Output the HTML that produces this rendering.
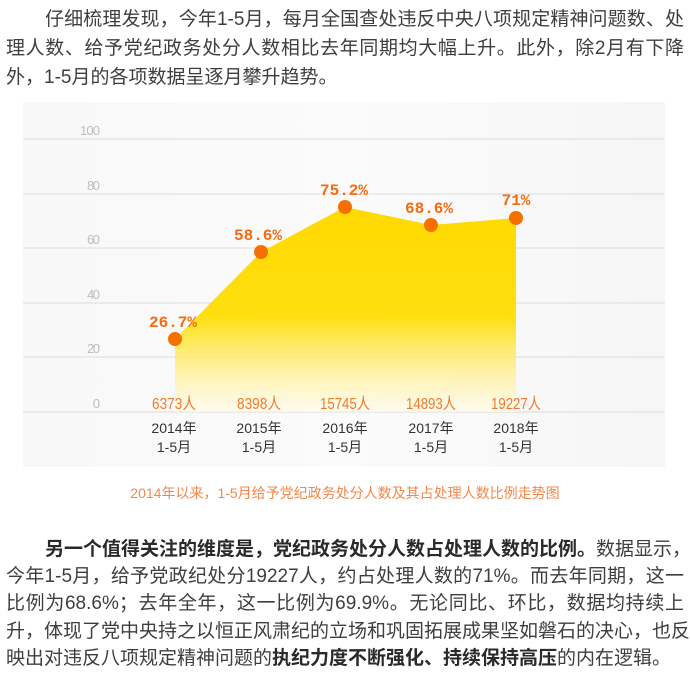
<!DOCTYPE html>
<html><head><meta charset="utf-8"><style>
body{margin:0;background:#fff;width:690px;height:675px;position:relative;overflow:hidden;font-family:"Liberation Sans","Noto Sans CJK SC",sans-serif;color:#3e3e3e}
.l{position:absolute;left:6px;width:678px;font-size:19px;line-height:24px;white-space:nowrap;text-align:justify;text-align-last:justify}
.l.i{left:45px;width:639px}
.l.e{text-align-last:left}
b{color:#2a2a2a}
</style></head><body>
<div class="l i" style="top:8px">仔细梳理发现，今年1-5月，每月全国查处违反中央八项规定精神问题数、处</div>
<div class="l" style="top:37px">理人数、给予党纪政务处分人数相比去年同期均大幅上升。此外，除2月有下降</div>
<div class="l e" style="top:66px">外，1-5月的各项数据呈逐月攀升趋势。</div>

<svg style="position:absolute;left:0;top:0" width="690" height="520">
<defs><linearGradient id="g" x1="0" y1="200" x2="0" y2="412" gradientUnits="userSpaceOnUse">
<stop offset="0" stop-color="#ffd800"/><stop offset="0.55" stop-color="#ffdf10"/><stop offset="1" stop-color="#fffbe8" stop-opacity="0.6"/></linearGradient>
<linearGradient id="bg" x1="0" y1="0" x2="1" y2="0"><stop offset="0" stop-color="#f8f8f8"/><stop offset="0.5" stop-color="#fbfbfb"/><stop offset="1" stop-color="#f6f6f6"/></linearGradient></defs>
<rect x="23" y="102" width="642" height="365" fill="url(#bg)"/>
<g stroke="#dcdcdc" stroke-width="1">
<line x1="23" y1="139" x2="665" y2="139"/><line x1="23" y1="194" x2="665" y2="194"/><line x1="23" y1="248" x2="665" y2="248"/><line x1="23" y1="303" x2="665" y2="303"/><line x1="23" y1="357" x2="665" y2="357"/><line x1="23" y1="412" x2="665" y2="412"/></g>
<g font-size="13" fill="#bdbdbd" text-anchor="end" font-family="Liberation Sans,sans-serif">
<text x="100" y="135" textLength="20">100</text><text x="100" y="190" textLength="13">80</text><text x="100" y="244" textLength="13">60</text><text x="100" y="299" textLength="13">40</text><text x="100" y="353" textLength="13">20</text><text x="100" y="408" textLength="6">0</text></g>
<polygon points="175,339 261,252 345,207 431,225 516,218 516,412 175,412" fill="url(#g)"/>
<g fill="#f57000"><circle cx="175" cy="339" r="7"/><circle cx="261" cy="252" r="7"/><circle cx="345" cy="207" r="7"/><circle cx="431" cy="225" r="7"/><circle cx="516" cy="218" r="7"/></g>
<g font-size="16" font-weight="bold" fill="#f36c10" text-anchor="middle" font-family="Liberation Mono,monospace">
<text x="173" y="327">26.7%</text><text x="258" y="240">58.6%</text><text x="344" y="195">75.2%</text><text x="429" y="213">68.6%</text><text x="516" y="205">71%</text></g>
<g font-size="16" fill="#f07a2a" font-family="Liberation Sans,Noto Sans CJK SC,sans-serif" lengthAdjust="spacingAndGlyphs">
<text x="152" y="409" textLength="44" lengthAdjust="spacingAndGlyphs">6373人</text><text x="237" y="409" textLength="44" lengthAdjust="spacingAndGlyphs">8398人</text><text x="320" y="409" textLength="50" lengthAdjust="spacingAndGlyphs">15745人</text><text x="406" y="409" textLength="50" lengthAdjust="spacingAndGlyphs">14893人</text><text x="491" y="409" textLength="50" lengthAdjust="spacingAndGlyphs">19227人</text></g>
<g font-size="14" fill="#333" text-anchor="middle" font-family="Liberation Sans,Noto Sans CJK SC,sans-serif">
<text x="174" y="433">2014年</text><text x="259" y="433">2015年</text><text x="345" y="433">2016年</text><text x="431" y="433">2017年</text><text x="516" y="433">2018年</text>
<text x="174" y="452">1-5月</text><text x="259" y="452">1-5月</text><text x="345" y="452">1-5月</text><text x="431" y="452">1-5月</text><text x="516" y="452">1-5月</text></g>
<text x="345" y="498" font-size="14" fill="#f5874a" text-anchor="middle" font-family="Liberation Sans,Noto Sans CJK SC,sans-serif">2014年以来，1-5月给予党纪政务处分人数及其占处理人数比例走势图</text>
</svg>

<div class="l i" style="top:538px"><b>另一个值得关注的维度是，党纪政务处分人数占处理人数的比例。</b>数据显示，</div>
<div class="l" style="top:565px">今年1-5月，给予党政纪处分19227人，约占处理人数的71%。而去年同期，这一</div>
<div class="l" style="top:592px">比例为68.6%；去年全年，这一比例为69.9%。无论同比、环比，数据均持续上</div>
<div class="l" style="top:620px">升，体现了党中央持之以恒正风肃纪的立场和巩固拓展成果坚如磐石的决心，也反</div>
<div class="l e" style="top:647px">映出对违反八项规定精神问题的<b>执纪力度不断强化、持续保持高压</b>的内在逻辑。</div>
</body></html>
